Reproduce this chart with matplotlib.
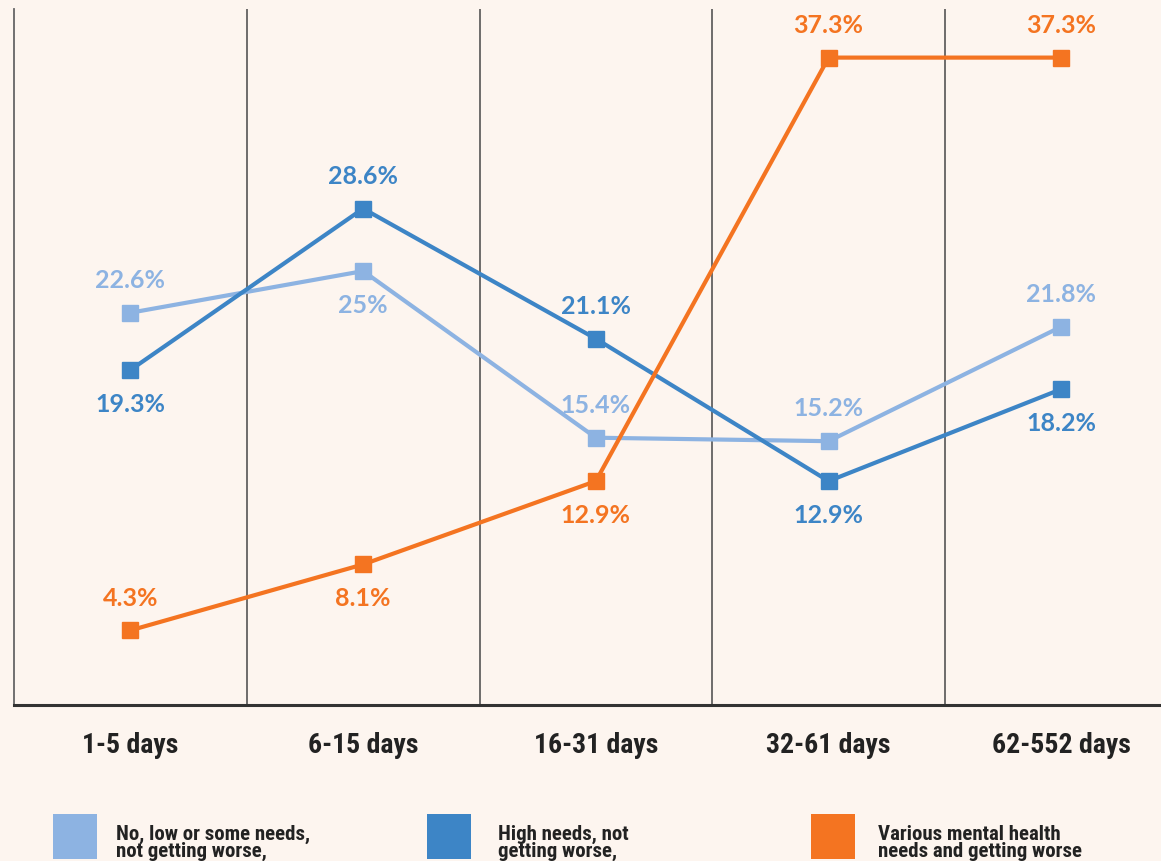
import matplotlib
matplotlib.use("Agg")
import matplotlib.pyplot as plt
from matplotlib import font_manager
from matplotlib.patches import Rectangle

categories = ["1-5 days", "6-15 days", "16-31 days", "32-61 days", "62-552 days"]
low_needs = [22.6, 25.0, 15.4, 15.2, 21.8]
high_needs = [19.3, 28.6, 21.1, 12.9, 18.2]
worse = [4.3, 8.1, 12.9, 37.3, 37.3]
low_labels = ["22.6%", "25%", "15.4%", "15.2%", "21.8%"]
high_labels = ["19.3%", "28.6%", "21.1%", "12.9%", "18.2%"]
worse_labels = ["4.3%", "8.1%", "12.9%", "37.3%", "37.3%"]
# +1 label above point, -1 below
low_pos = [1, -1, 1, 1, 1]
high_pos = [-1, 1, 1, -1, -1]
worse_pos = [1, -1, -1, 1, 1]
legend_labels = ["No, low or some needs,\nnot getting worse,",
                 "High needs, not\ngetting worse,",
                 "Various mental health\nneeds and getting worse"]

C_LIGHT = "#8db3e2"
C_BLUE = "#3d85c6"
C_ORANGE = "#f47421"
BG = "#fdf5ef"

names = {f.name for f in font_manager.fontManager.ttflist}
cond = next((n for n in ["Liberation Sans Narrow", "Roboto Condensed", "DejaVu Sans"] if n in names), "DejaVu Sans")
num_font = next((n for n in ["Lato", "Open Sans", "DejaVu Sans"] if n in names), "DejaVu Sans")

W, H = 1161, 862
fig = plt.figure(figsize=(W / 100, H / 100), dpi=100, facecolor=BG)
ax = fig.add_axes([14 / W, (H - 706) / H, 1163.75 / W, 696 / H])
ax.set_facecolor(BG)
ax.set_xlim(-0.5, 4.5)
ax.set_ylim(0, 40.1)

for s in ["top", "right"]:
    ax.spines[s].set_visible(False)
ax.spines["left"].set_color("#666666")
ax.spines["left"].set_linewidth(1.3)
ax.spines["bottom"].set_color("#333333")
ax.spines["bottom"].set_linewidth(2.2)
for xv in [0.5, 1.5, 2.5, 3.5]:
    ax.axvline(xv, color="#555555", lw=1.2, zorder=1)

x = list(range(len(categories)))
series = [(low_needs, low_labels, low_pos, C_LIGHT),
          (high_needs, high_labels, high_pos, C_BLUE),
          (worse, worse_labels, worse_pos, C_ORANGE)]
for vals, labs, pos, col in series:
    ax.plot(x, vals, color=col, lw=3, marker="s", markersize=11, zorder=3)
    for xi, v, lab, p in zip(x, vals, labs, pos):
        ax.annotate(lab, (xi, v), xytext=(0, 24 * p), textcoords="offset points",
                    ha="center", va="center", color=col, fontsize=18,
                    fontweight="bold", family=num_font, zorder=4)

ax.set_yticks([])
ax.set_xticks(x)
ax.set_xticklabels(categories, fontsize=20, fontweight="bold", family=cond, color="#222222")
ax.tick_params(axis="x", length=0, pad=19)

# legend
sq_x = [53, 427, 811]
txt_x = [116, 498, 878]
cols = [C_LIGHT, C_BLUE, C_ORANGE]
for sx, tx, col, lab in zip(sq_x, txt_x, cols, legend_labels):
    fig.patches.append(Rectangle((sx / W, (H - 860) / H), 44 / W, 45 / H,
                                 transform=fig.transFigure, facecolor=col,
                                 edgecolor="none"))
    fig.text(tx / W, (H - 843) / H, lab, ha="left", va="center", fontsize=15,
             fontweight="bold", family=cond, color="#222222", linespacing=0.9)

fig.savefig("out.png", dpi=100, facecolor=BG)
